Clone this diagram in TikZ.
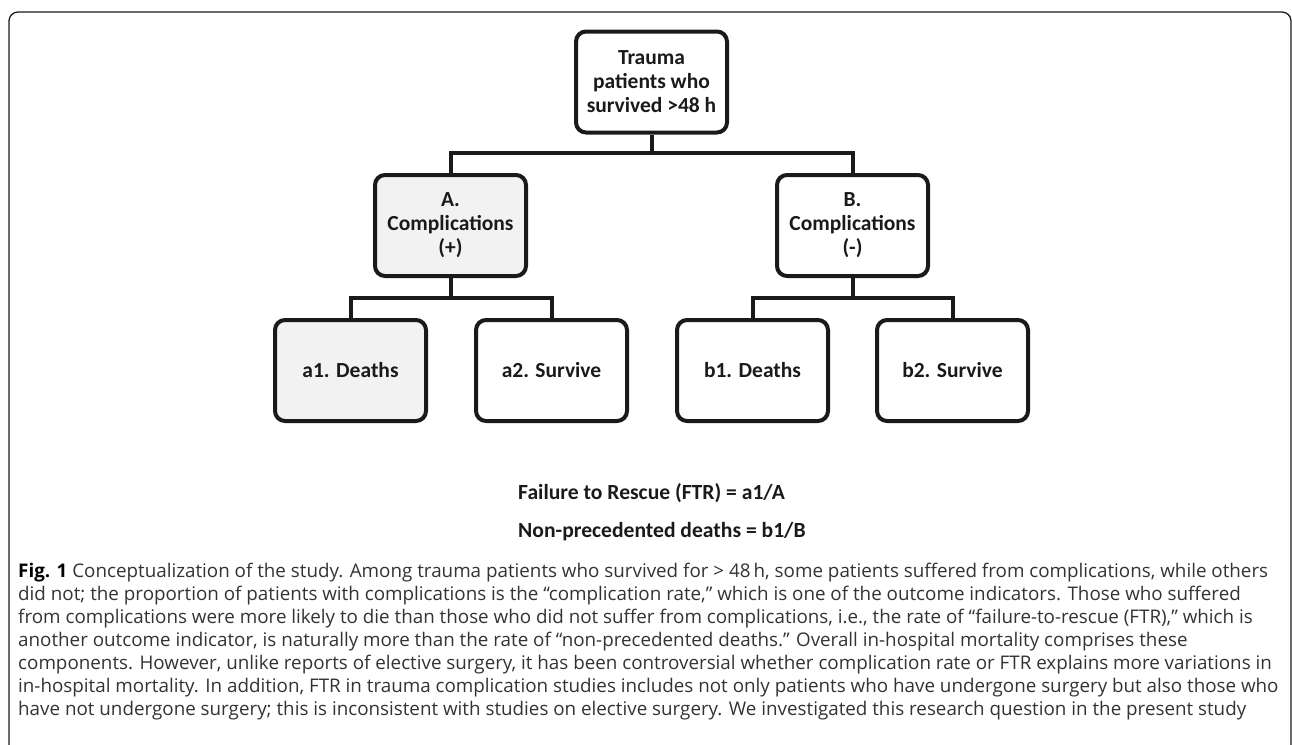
\documentclass[tikz,border=0pt]{standalone}
\usepackage{fontspec}
\setmainfont{Carlito}
\newfontfamily\capfont{Open Sans}
\definecolor{boxline}{HTML}{1A1A1A}
\definecolor{boxgray}{HTML}{F2F2F2}
\definecolor{captext}{HTML}{333333}
\begin{document}
\begin{tikzpicture}[x=1pt,y=-1pt,
  box/.style={draw=boxline, line width=4pt, rounded corners=10pt, fill=white,
    minimum width=151pt, minimum height=101pt, inner sep=0pt,
    align=center, font=\fontsize{21.5}{24}\selectfont\bfseries, text=boxline},
  grayfill/.style={fill=boxgray},
  link/.style={draw=boxline, line width=4pt},
  formula/.style={anchor=west, font=\fontsize{21.6}{24}\selectfont\bfseries, text=boxline, inner sep=0pt},
  capline/.style={anchor=base west, inner sep=0pt, font=\capfont\fontsize{18.8}{23}\selectfont, text=captext}
]
\useasboundingbox (0,0) rectangle (1292,744);
% outer frame
\draw[line width=1.3pt, draw=boxline, rounded corners=9pt] (9,760) -- (9,12) -- (1291,12) -- (1291,760);

% nodes
\node[box] (T) at (651.5,82) {Trauma\\patients who\\survived >48 h};
\node[box, grayfill] (A) at (450.5,225.5) {A.\\Complications\\(+)};
\node[box] (B) at (852.5,225.5) {B.\\Complications\\(-)};
\node[box, grayfill] (a1) at (350.5,370.5) {a1. Deaths};
\node[box] (a2) at (551.5,370.5) {a2. Survive};
\node[box] (b1) at (752.5,370.5) {b1. Deaths};
\node[box] (b2) at (952.5,370.5) {b2. Survive};

% connectors
\draw[link] (T.south) -- ++(0,18) -| (A.north);
\draw[link] (T.south) -- ++(0,18) -| (B.north);
\draw[link] (A.south) -- ++(0,20) -| (a1.north);
\draw[link] (A.south) -- ++(0,20) -| (a2.north);
\draw[link] (B.south) -- ++(0,20) -| (b1.north);
\draw[link] (B.south) -- ++(0,20) -| (b2.north);

% formulas
\node[formula] (f1) at (518,493) {Failure to Rescue (FTR) = a1/A};
\node[formula] (f2) at (518,532) {Non-precedented deaths = b1/B};

% caption
\node[capline] (c1) at (18,577) {\textbf{\color{black}Fig. 1} Conceptualization of the study. Among trauma patients who survived for > 48\,h, some patients suffered from complications, while others};
\node[capline] (c2) at (18,600) {did not; the proportion of patients with complications is the “complication rate,” which is one of the outcome indicators. Those who suffered};
\node[capline] (c3) at (18,623) {from complications were more likely to die than those who did not suffer from complications, i.e., the rate of “failure-to-rescue (FTR),” which is};
\node[capline] (c4) at (18,646) {another outcome indicator, is naturally more than the rate of “non-precedented deaths.” Overall in-hospital mortality comprises these};
\node[capline] (c5) at (18,669) {components. However, unlike reports of elective surgery, it has been controversial whether complication rate or FTR explains more variations in};
\node[capline] (c6) at (18,692) {in-hospital mortality. In addition, FTR in trauma complication studies includes not only patients who have undergone surgery but also those who};
\node[capline] (c7) at (18,715) {have not undergone surgery; this is inconsistent with studies on elective surgery. We investigated this research question in the present study};
\end{tikzpicture}
\end{document}
